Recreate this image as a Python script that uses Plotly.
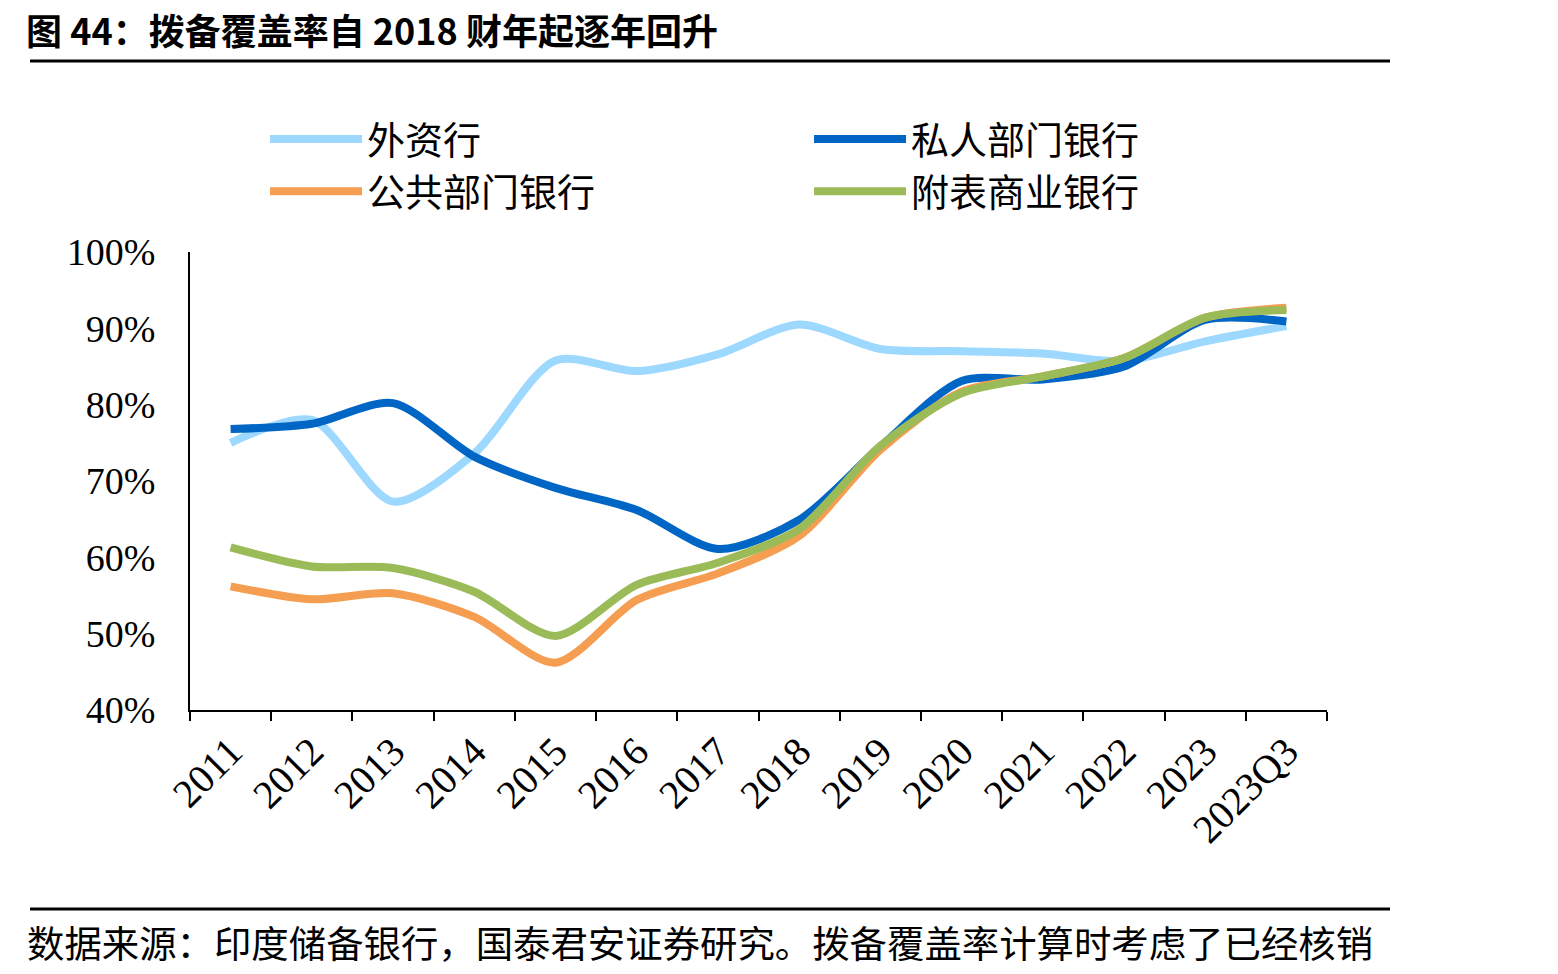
import plotly.graph_objects as go

categories = ["2011", "2012", "2013", "2014", "2015", "2016", "2017", "2018",
              "2019", "2020", "2021", "2022", "2023", "2023Q3"]

foreign_banks = [75.0, 78.0, 67.3, 73.6, 85.8, 84.4, 86.6, 90.5, 87.3, 87.0, 86.7, 85.7, 88.3, 90.3]
private_banks = [76.8, 77.5, 80.2, 73.2, 69.1, 66.2, 61.1, 64.9, 74.5, 83.1, 83.3, 85.0, 91.1, 90.9]
public_banks = [56.2, 54.5, 55.3, 52.2, 46.2, 54.4, 57.9, 62.8, 74.1, 81.7, 83.7, 86.1, 91.4, 92.7]
scheduled_banks = [61.3, 58.8, 58.6, 55.5, 49.7, 56.4, 59.3, 63.7, 74.6, 81.5, 83.7, 86.1, 91.4, 92.4]

series_names = ["外资行", "私人部门银行", "公共部门银行", "附表商业银行"]
series_values = [foreign_banks, private_banks, public_banks, scheduled_banks]
series_colors = ["#9DD8FF", "#0066C5", "#F59D50", "#9BBB59"]

y_ticks = [40, 50, 60, 70, 80, 90, 100]
y_tick_labels = ["40%", "50%", "60%", "70%", "80%", "90%", "100%"]

fig = go.Figure()
for name, vals, col in zip(series_names, series_values, series_colors):
    fig.add_trace(go.Scatter(
        x=categories, y=vals, name=name, mode="lines",
        line=dict(color=col, width=8, shape="spline", smoothing=0.8),
    ))

serif = "Liberation Serif, Times New Roman, serif"
cjk = "Noto Sans CJK SC"

fig.update_layout(
    width=1558, height=974,
    margin=dict(l=190, r=231, t=252, b=264),
    paper_bgcolor="white", plot_bgcolor="white",
    showlegend=True,
    legend=dict(
        orientation="h", x=0.066, y=1.315, xanchor="left", yanchor="top",
        entrywidth=437, entrywidthmode="pixels", itemwidth=92,
        font=dict(family=cjk, size=38, color="black"),
        bgcolor="rgba(0,0,0,0)", traceorder="normal",
    ),
    xaxis=dict(
        type="category", range=[-0.5, 13.5],
        showline=True, linecolor="black", linewidth=2,
        ticks="outside", tickson="boundaries", ticklen=9, tickwidth=2, tickcolor="black",
        tickangle=-45, tickfont=dict(family=serif, size=40, color="black"),
        showgrid=False, zeroline=False,
    ),
    yaxis=dict(
        range=[40, 100], tickvals=y_ticks, ticktext=y_tick_labels,
        showline=True, linecolor="black", linewidth=2,
        ticks="", ticklabelstandoff=25,
        tickfont=dict(family=serif, size=38, color="black"),
        showgrid=False, zeroline=False,
    ),
    font=dict(family=cjk, color="black"),
)

# Title, rules and source note
fig.add_annotation(
    text="<b>图 44：拨备覆盖率自 2018 财年起逐年回升</b>",
    xref="paper", yref="paper", x=(25 - 190) / 1137, y=1 + (252 - 2) / 458,
    xanchor="left", yanchor="top", showarrow=False, borderpad=0,
    font=dict(family=cjk, size=36, color="black"),
)
fig.add_shape(type="line", xref="paper", yref="paper",
              x0=(30 - 190) / 1137, x1=(1390 - 190) / 1137,
              y0=1 + (252 - 61) / 458, y1=1 + (252 - 61) / 458,
              line=dict(color="black", width=3))
fig.add_shape(type="line", xref="paper", yref="paper",
              x0=(30 - 190) / 1137, x1=(1390 - 190) / 1137,
              y0=-(909 - 710) / 458, y1=-(909 - 710) / 458,
              line=dict(color="black", width=3))
fig.add_annotation(
    text="数据来源：印度储备银行，国泰君安证券研究。拨备覆盖率计算时考虑了已经核销",
    xref="paper", yref="paper", x=(25 - 190) / 1137, y=-(942 - 710) / 458,
    xanchor="left", yanchor="middle", showarrow=False,
    font=dict(family=cjk, size=37.4, color="black"),
)

fig.write_html("out.html")
